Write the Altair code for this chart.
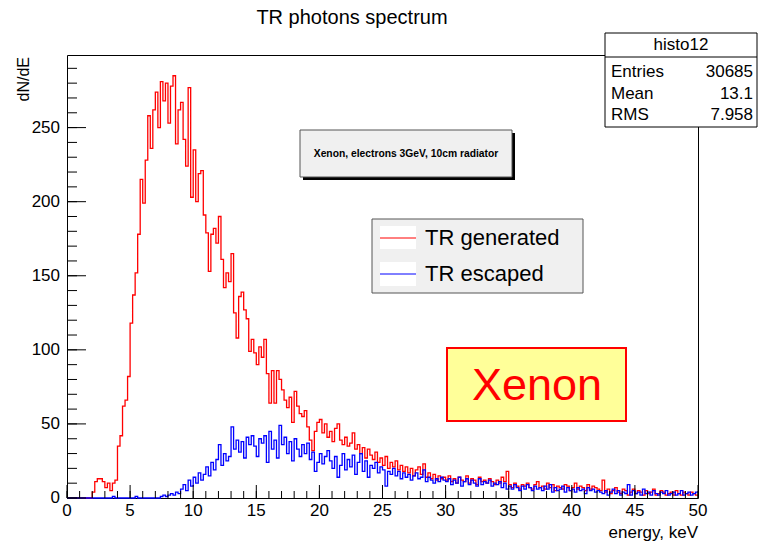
import altair as alt
import pandas as pd

BIN_WIDTH = 0.2  # keV

# TR generated (red), 250 bins of 0.2 keV from 0 to 50 keV
red_counts = [
    0, 0, 0, 0, 0, 0, 0, 0, 0, 0,
    4, 11, 13, 13, 11, 7, 10, 5, 10, 12,
    35, 42, 62, 66, 82, 118, 137, 152, 178, 215,
    199, 228, 258, 236, 262, 274, 250, 281, 268, 280,
    253, 278, 285, 239, 262, 267, 242, 224, 277, 203,
    235, 200, 219, 221, 191, 179, 153, 178, 182, 172,
    190, 161, 142, 152, 146, 165, 125, 108, 136, 139,
    127, 121, 99, 107, 98, 90, 102, 95, 107, 84,
    64, 86, 64, 86, 80, 73, 66, 61, 68, 51,
    72, 62, 57, 55, 59, 48, 39, 32, 45, 51,
    53, 44, 50, 41, 45, 38, 47, 50, 39, 36,
    41, 35, 37, 44, 33, 36, 30, 34, 27, 33,
    29, 26, 31, 24, 27, 22, 28, 20, 24, 21,
    25, 19, 22, 18, 21, 17, 20, 15, 19, 21,
    16, 23, 14, 17, 13, 16, 12, 15, 13, 14,
    12, 15, 11, 13, 10, 14, 12, 11, 15, 10,
    13, 12, 9, 14, 11, 12, 10, 13, 11, 9,
    12, 10, 14, 11, 18, 9, 7, 10, 8, 6,
    9, 8, 10, 7, 6, 9, 11, 7, 8, 6,
    10, 7, 9, 5, 8, 7, 6, 9, 8, 5,
    7, 10, 6, 8, 7, 5, 9, 6, 8, 7,
    6, 5, 12, 4, 6, 3, 5, 7, 4, 3,
    6, 5, 2, 4, 6, 3, 5, 4, 2, 5,
    3, 4, 6, 2, 3, 5, 4, 2, 3, 4,
    2, 5, 3, 2, 4, 3, 2, 4, 3, 2,
]

# TR escaped (blue)
blue_counts = [
    0, 0, 0, 0, 0, 0, 0, 0, 0, 0,
    0, 0, 0, 0, 0, 0, 0, 0, 1, 0,
    0, 0, 0, 0, 0, 0, 0, 1, 0, 0,
    0, 0, 0, 0, 0, 0, 0, 1, 2, 1,
    2, 3, 2, 4, 3, 6, 9, 5, 12, 8,
    14, 10, 17, 12, 16, 21, 15, 24, 19, 26,
    36, 22, 30, 25, 28, 48, 33, 39, 31, 38,
    27, 41, 36, 42, 35, 28, 40, 37, 42, 24,
    45, 33, 39, 27, 49, 36, 41, 30, 38, 25,
    40, 33, 28, 36, 30, 37, 26, 31, 18, 24,
    30, 23, 28, 32, 25, 20, 28, 14, 22, 30,
    19, 26, 21, 29, 16, 24, 30, 18, 25, 14,
    22, 20, 24, 17, 21, 19, 8, 18, 16, 20,
    15, 18, 13, 17, 14, 16, 12, 15, 17, 13,
    14, 19, 11, 14, 12, 10, 13, 11, 14, 12,
    11, 13, 9, 12, 10, 14, 8, 11, 13, 9,
    12, 10, 8, 13, 9, 11, 10, 12, 8, 10,
    9, 11, 7, 10, 6, 8, 6, 9, 7, 5,
    8, 6, 9, 7, 5, 8, 6, 7, 5, 8,
    6, 9, 4, 7, 5, 6, 8, 4, 7, 5,
    6, 4, 7, 5, 6, 3, 7, 5, 6, 4,
    5, 4, 3, 5, 2, 4, 6, 3, 5, 2,
    4, 3, 9, 2, 5, 3, 4, 2, 6, 3,
    4, 2, 5, 3, 2, 4, 3, 5, 2, 3,
    4, 2, 3, 5, 2, 3, 4, 2, 3, 4,
]

x_major = [0, 5, 10, 15, 20, 25, 30, 35, 40, 45, 50]
x_minor = list(range(0, 51))
y_major = [0, 50, 100, 150, 200, 250]
y_minor = list(range(0, 300, 10))

stats_names = ["Entries", "Mean", "RMS"]
stats_values = ["30685", "13.1", "7.958"]
legend_labels = ["TR generated", "TR escaped"]

FONT = "Liberation Sans"
W, H = 631, 443


def step_df(counts):
    edges = [round(i * BIN_WIDTH, 4) for i in range(len(counts) + 1)]
    return pd.DataFrame({"energy": edges, "count": counts + [counts[-1]]})


x_scale = alt.Scale(domain=[0, 50], nice=False, zero=False)
y_scale = alt.Scale(domain=[0, 299], nice=False)

one = pd.DataFrame({"a": [0]})


def hist(counts, color):
    return alt.Chart(step_df(counts)).mark_line(
        interpolate="step-after", color=color, strokeWidth=1.3
    ).encode(x=alt.X("energy:Q", scale=x_scale, axis=None),
             y=alt.Y("count:Q", scale=y_scale, axis=None))


def xticks(vals, length):
    return alt.Chart(pd.DataFrame({"v": vals})).mark_rule(color="black", strokeWidth=1).encode(
        x=alt.X("v:Q", scale=x_scale, axis=None), y=alt.value(H), y2=alt.value(H - length))


def yticks(vals, length):
    return alt.Chart(pd.DataFrame({"v": vals})).mark_rule(color="black", strokeWidth=1).encode(
        y=alt.Y("v:Q", scale=y_scale, axis=None), x=alt.value(0), x2=alt.value(length))


x_labels = alt.Chart(pd.DataFrame({"v": x_major, "t": [str(v) for v in x_major]})).mark_text(
    font=FONT, fontSize=17, color="black", align="center", baseline="top"
).encode(x=alt.X("v:Q", scale=x_scale, axis=None), y=alt.value(H + 5), text="t:N")

y_labels = alt.Chart(pd.DataFrame({"v": y_major, "t": [str(v) for v in y_major]})).mark_text(
    font=FONT, fontSize=17, color="black", align="right", baseline="middle"
).encode(y=alt.Y("v:Q", scale=y_scale, axis=None), x=alt.value(-7), text="t:N")


def rect(x1, x2, y1, y2, **kw):
    return alt.Chart(one).mark_rect(**kw).encode(
        x=alt.value(x1), x2=alt.value(x2), y=alt.value(y1), y2=alt.value(y2))


def text(t, x, y, **kw):
    kw.setdefault("font", FONT)
    kw.setdefault("color", "black")
    return alt.Chart(one).mark_text(text=t, **kw).encode(x=alt.value(x), y=alt.value(y))


def hline(x1, x2, y, color, width=1):
    return alt.Chart(one).mark_rule(color=color, strokeWidth=width).encode(
        x=alt.value(x1), x2=alt.value(x2), y=alt.value(y))


layers = [
    hist(red_counts, "#ff0000"), hist(blue_counts, "#0000ff"),
    xticks(x_minor, 7), xticks(x_major, 13),
    yticks(y_minor, 10), yticks(y_major, 19),
    x_labels, y_labels,
    # title and axis titles
    text("TR photons spectrum", 285, -37, fontSize=20, align="center", baseline="middle"),
    text("dN/dE", -43, 2, fontSize=16, angle=270, align="right", baseline="middle"),
    text("energy, keV", W, 483, fontSize=17, align="right", baseline="alphabetic"),
    # stats box
    rect(538, 690, -22, 72, fill="white", stroke="black", strokeWidth=1),
    hline(538, 690, 2, "black"),
    text("histo12", 614, -10, fontSize=17, align="center", baseline="middle"),
]
for i, (n, v) in enumerate(zip(stats_names, stats_values)):
    yy = 17 + 21.5 * i
    layers.append(text(n, 544, yy, fontSize=17, align="left", baseline="middle"))
    layers.append(text(v, 686, yy, fontSize=17, align="right", baseline="middle"))

layers += [
    # info box with shadow
    rect(236, 448, 78, 125, fill="black"),
    rect(233, 445, 75, 122, fill="#f0f0f0", stroke="#555555", strokeWidth=1),
    text("Xenon, electrons 3GeV, 10cm radiator", 339, 99, fontSize=10.3, fontWeight="bold",
         align="center", baseline="middle"),
    # legend
    rect(305, 516, 164, 238, fill="#f0f0f0", stroke="#555555", strokeWidth=1),
    rect(313, 349, 171, 194, fill="white"),
    rect(313, 349, 207, 231, fill="white"),
    hline(313, 349, 183, "#ff0000"),
    hline(313, 349, 219, "#0000ff"),
    text(legend_labels[0], 358, 183, fontSize=22, align="left", baseline="middle"),
    text(legend_labels[1], 358, 219, fontSize=22, align="left", baseline="middle"),
    # Xenon label
    rect(380, 559, 293, 366, fill="#ffff99", stroke="#ff0000", strokeWidth=2),
    text("Xenon", 470, 331, fontSize=45, color="#ff0000", align="center", baseline="middle"),
]

chart = alt.layer(*layers).properties(
    width=W, height=H,
    padding={"left": 67, "top": 55, "right": 61, "bottom": 45},
    autosize=alt.AutoSizeParams(type="none"),
    background="white",
).configure_view(stroke="black", strokeWidth=1)

chart.save("out.html", embed_options={"renderer": "svg", "actions": False})
